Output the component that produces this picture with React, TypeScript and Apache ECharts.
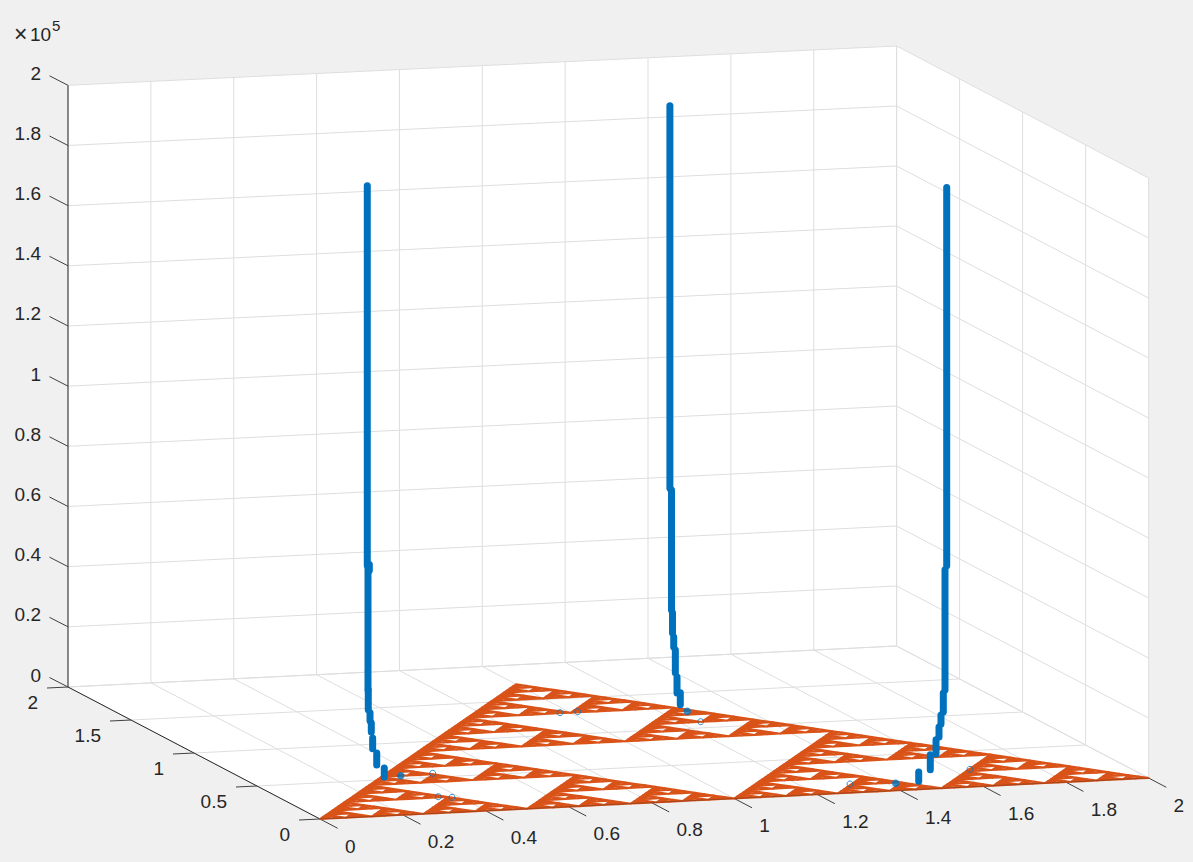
import React, { useEffect, useRef } from "react";
import * as echarts from "echarts";

const WIDTH = 1193;
const HEIGHT = 862;
const BG = "#F0F0F0";
const AXIS = "#262626";
const GRID = "#DEDEDE";
const ORANGE = "#D95319";
const BLUE = "#0072BD";
const FONT = '"Liberation Sans", Arial, sans-serif';

const xTicks = [0, 0.2, 0.4, 0.6, 0.8, 1, 1.2, 1.4, 1.6, 1.8, 2];
const yTicks = [0, 0.5, 1, 1.5, 2];
const zTicks = [0, 20000, 40000, 60000, 80000, 100000, 120000, 140000, 160000, 180000, 200000];
const xLabels = ["0", "0.2", "0.4", "0.6", "0.8", "1", "1.2", "1.4", "1.6", "1.8", "2"];
const yLabels = ["0", "0.5", "1", "1.5", "2"];
const zLabels = ["0", "0.2", "0.4", "0.6", "0.8", "1", "1.2", "1.4", "1.6", "1.8", "2"];

// The gasket's three corners; the fractal itself is the
// subdivision of this triangle, so it is built from these corners by recursion.
const gasketCorners: number[][] = [[0, 0], [2, 0], [1, 1.7321]];
const gasketDepth = 6;

// Blue spikes: [x, y, z at upper end, z at lower end]
const spikeLeft = [
  [0.2814, 0.55, 196600, 70300],
  [0.2863, 0.55, 70600, 68600],
  [0.2831, 0.55, 69600, 29000],
  [0.2838, 0.55, 29000, 22300],
  [0.288, 0.55, 21300, 18600],
  [0.2911, 0.55, 17900, 14900],
  [0.2913, 0.54, 13100, 9500],
  [0.2981, 0.53, 8300, 4300],
  [0.3133, 0.52, 3400, 400],
];
const spikeMiddle = [
  [1.246, 1.32, 200000, 72600],
  [1.2377, 1.28, 73000, 33000],
  [1.2371, 1.27, 32300, 25600],
  [1.24, 1.27, 24200, 20900],
  [1.2409, 1.26, 20100, 12500],
  [1.2419, 1.25, 11300, 6000],
  [1.2498, 1.25, 6000, 2000],
];
const spikeRight = [
  [1.5431, 0.1, 197600, 71600],
  [1.539, 0.1, 70300, 30300],
  [1.5349, 0.1, 29300, 23000],
  [1.5293, 0.1, 22000, 19000],
  [1.5245, 0.1, 18000, 14700],
  [1.5173, 0.1, 13800, 9100],
  [1.5035, 0.1, 8900, 3900],
  [1.4755, 0.1, 3400, 300],
];
const solidDots = [
  [1.2636, 1.24, 0],
  [0.3603, 0.5442, 0],
  [1.42, 0.0999, 0],
];
const openDots = [
  [1.2492, 1.0862, 0],
  [0.9769, 1.3072, 0],
  [1.0201, 1.3089, 0],
  [0.4409, 0.5555, 0],
  [0.3548, 0.2277, 0],
  [0.3825, 0.21, 0],
  [1.3162, 0.1215, 0],
  [1.6427, 0.2428, 0],
];

// Nearly orthographic view of the box, measured from its corners in the picture.
const project = (x: number, y: number, z: number): number[] => [
  320 + 414.3 * x - 126 * y,
  819 - 20.5 * x - 66 * y - z * 0.003 * (1 + 0.0014 * (2 - x)),
];

const X_MAX = 2;
const Y_MAX = 2;
const Z_MAX = 200000;

const walls = [
  [[0, 0, 0], [X_MAX, 0, 0], [X_MAX, Y_MAX, 0], [0, Y_MAX, 0]],
  [[0, Y_MAX, 0], [X_MAX, Y_MAX, 0], [X_MAX, Y_MAX, Z_MAX], [0, Y_MAX, Z_MAX]],
  [[X_MAX, Y_MAX, 0], [X_MAX, 0, 0], [X_MAX, 0, Z_MAX], [X_MAX, Y_MAX, Z_MAX]],
].map((q) => q.map((p) => project(p[0], p[1], p[2])));

const segs = (list: number[][][]) => list.map((s) => [...project(s[0][0], s[0][1], s[0][2]), ...project(s[1][0], s[1][1], s[1][2])]);

const gridSegments = segs([
  ...zTicks.flatMap((z) => [
    [[0, Y_MAX, z], [X_MAX, Y_MAX, z]],
    [[X_MAX, Y_MAX, z], [X_MAX, 0, z]],
  ]),
  ...xTicks.flatMap((x) => [
    [[x, 0, 0], [x, Y_MAX, 0]],
    [[x, Y_MAX, 0], [x, Y_MAX, Z_MAX]],
  ]),
  ...yTicks.flatMap((y) => [
    [[0, y, 0], [X_MAX, y, 0]],
    [[X_MAX, y, 0], [X_MAX, y, Z_MAX]],
  ]),
]);

const axisSegments = segs([
  [[0, Y_MAX, 0], [0, Y_MAX, Z_MAX]],
  [[0, 0, 0], [0, Y_MAX, 0]],
]);
const xAxisSegment = segs([[[0, 0, 0], [X_MAX, 0, 0]]]);

// tick marks are short pieces along the floor directions
const tickSegments: number[][] = [
  ...xTicks.map((x) => { const p = project(x, 0, 0); return [p[0], p[1], p[0] + 17.7, p[1] + 9.3]; }),
  ...yTicks.map((y) => { const p = project(0, y, 0); return [p[0], p[1], p[0] - 21, p[1] + 1]; }),
  ...zTicks.map((z) => { const p = project(0, Y_MAX, z); return [p[0], p[1], p[0] - 18.5, p[1] - 9.5]; }),
];

const subdivide = (a: number[], b: number[], c: number[], depth: number, out: number[][][]) => {
  if (depth === 0) {
    out.push([a, b, c]);
    return;
  }
  const mid = (p: number[], q: number[]) => [(p[0] + q[0]) / 2, (p[1] + q[1]) / 2];
  const ab = mid(a, b);
  const bc = mid(b, c);
  const ca = mid(c, a);
  subdivide(a, ab, ca, depth - 1, out);
  subdivide(ab, b, bc, depth - 1, out);
  subdivide(ca, bc, c, depth - 1, out);
};

const gasketCells: number[][][] = [];
subdivide(gasketCorners[0], gasketCorners[1], gasketCorners[2], gasketDepth, gasketCells);
const gasketData = gasketCells.map((t) => t.flatMap((p) => project(p[0], p[1], 0)));

const hiddenPoly = (data: number[][], fill: string, stroke: string, lw: number, name: string) => ({
  type: "custom",
  name,
  coordinateSystem: "cartesian2d",
  silent: true,
  clip: false,
  encode: { x: 0, y: 1 },
  data,
  renderItem: (_p: any, api: any) => {
    const pts: number[][] = [];
    const n = data[0].length / 2;
    for (let i = 0; i < n; i++) pts.push(api.coord([api.value(2 * i), api.value(2 * i + 1)]));
    return { type: "polygon", shape: { points: pts }, style: { fill, stroke, lineWidth: lw, lineJoin: "round" } };
  },
});

const segSeries = (data: number[][], color: string, lw: number, name: string) => ({
  type: "custom",
  name,
  coordinateSystem: "cartesian2d",
  silent: true,
  clip: false,
  encode: { x: 0, y: 1 },
  data,
  renderItem: (_p: any, api: any) => {
    const a = api.coord([api.value(0), api.value(1)]);
    const b = api.coord([api.value(2), api.value(3)]);
    return { type: "line", shape: { x1: a[0], y1: a[1], x2: b[0], y2: b[1] }, style: { stroke: color, lineWidth: lw } };
  },
});

const spikeSeries = [...spikeLeft, ...spikeMiddle, ...spikeRight].map((s, i) => ({
  type: "line",
  name: "spike" + i,
  silent: true,
  showSymbol: false,
  clip: false,
  data: [project(s[0], s[1], s[2]), project(s[0], s[1], s[3])],
  lineStyle: { color: BLUE, width: 7, cap: "round" },
}));

const text = (t: string, x: number, y: number, align: string, size = 19) => ({
  type: "text",
  x,
  y,
  silent: true,
  style: { text: t, align, verticalAlign: "middle", fill: AXIS, font: `${size}px ${FONT}` },
});

const labels = [
  ...xTicks.map((v, i) => { const p = project(v, 0, 0); return text(xLabels[i], p[0] + 25, p[1] + 27, "left"); }),
  ...yTicks.map((v, i) => { const p = project(0, v, 0); return text(yLabels[i], p[0] - 30, p[1] + 15, "right"); }),
  ...zTicks.map((v, i) => { const p = project(0, Y_MAX, v); return text(zLabels[i], p[0] - 27, p[1] - 12, "right"); }),
  text("×", 14, 34, "left", 23),
  text("10", 30, 34, "left"),
  text("5", 52, 25, "left", 15),
];

export default function App() {
  const ref = useRef<HTMLDivElement>(null);
  useEffect(() => {
    document.body.style.margin = "0";
    const chart = echarts.init(ref.current!, undefined, { renderer: "svg" });
    chart.setOption({
      animation: false,
      backgroundColor: BG,
      grid: { left: 0, right: 0, top: 0, bottom: 0 },
      xAxis: { type: "value", min: 0, max: WIDTH, show: false },
      yAxis: { type: "value", min: 0, max: HEIGHT, inverse: true, show: false },
      graphic: { elements: labels },
      series: [
        hiddenPoly(walls.map((q) => q.flat()), "#FFFFFF", "none", 0, "walls"),
        segSeries(gridSegments, GRID, 1, "grid"),
        segSeries(axisSegments, AXIS, 1, "axes"),
        segSeries(tickSegments, "#404040", 1, "ticks"),
        hiddenPoly(gasketData, ORANGE, ORANGE, 1.9, "gasket"),
        segSeries(xAxisSegment, "rgba(38,38,38,0.3)", 1, "xaxis"),
        ...spikeSeries,
        {
          type: "scatter",
          name: "solid",
          silent: true,
          clip: false,
          symbolSize: 7.5,
          data: solidDots.map((p) => project(p[0], p[1], p[2])),
          itemStyle: { color: BLUE },
        },
        {
          type: "scatter",
          name: "open",
          silent: true,
          clip: false,
          symbolSize: 6,
          data: openDots.map((p) => project(p[0], p[1], p[2])),
          itemStyle: { color: "transparent", borderColor: BLUE, borderWidth: 1 },
        },
      ],
    });
    return () => chart.dispose();
  }, []);
  return <div ref={ref} style={{ position: "fixed", left: 0, top: 0, width: WIDTH, height: HEIGHT }} />;
}
